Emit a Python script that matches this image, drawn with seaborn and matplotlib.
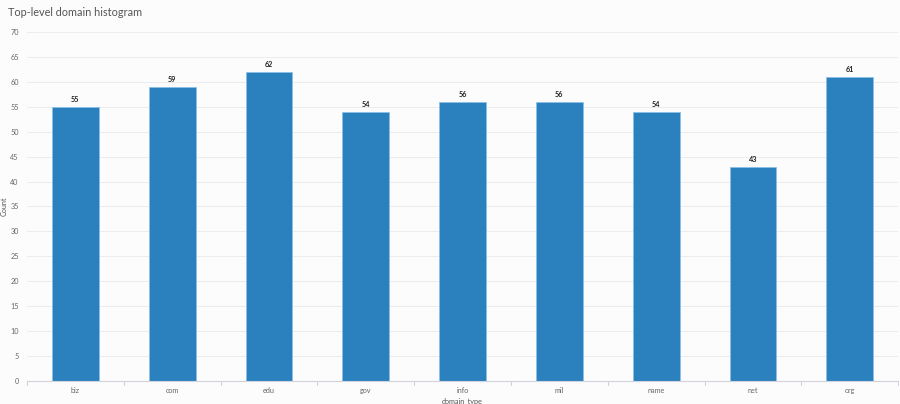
import matplotlib
matplotlib.use("Agg")
import matplotlib.pyplot as plt
import seaborn as sns
import pandas as pd
import numpy as np

domains = ["biz", "com", "edu", "gov", "info", "mil", "name", "net", "org"]
counts = [55, 59, 62, 54, 56, 56, 54, 43, 61]
y_ticks = list(range(0, 75, 5))

BG = "#fcfcfd"
BAR = "#2b80be"

sns.set_theme(style="whitegrid")
plt.rcParams["font.family"] = ["Lato", "DejaVu Sans"]

df = pd.DataFrame({"domain_type": domains, "Count": counts})

fig = plt.figure(figsize=(9, 4.04), dpi=100, facecolor=BG)
ax = fig.add_axes([0.03, 0.057, 0.968, 0.864], facecolor=BG)

sns.barplot(data=df, x="domain_type", y="Count", color=BAR, width=0.485,
            saturation=1, edgecolor="#8cc0e6", linewidth=0.6, ax=ax)

for i, v in enumerate(counts):
    ax.text(i, v + 0.7, str(v), ha="center", va="bottom", fontsize=5.2,
            color="#222222", fontweight="bold")

ax.set_ylim(0, 70)
ax.set_xlim(-0.5, len(domains) - 0.5)
ax.set_yticks(y_ticks)
ax.set_yticklabels([str(t) for t in y_ticks], fontsize=5.2, color="#666666")
ax.set_xticks(range(len(domains)))
ax.set_xticklabels(domains, fontsize=5.2, color="#666666")
ax.tick_params(axis="x", length=0, pad=4)
ax.tick_params(axis="y", length=0, pad=6)

# boundary ticks between categories
for b in np.arange(-0.5, len(domains), 1.0):
    ax.plot([b, b], [0, -0.9], color="#d0d4da", lw=0.8, clip_on=False)

ax.grid(axis="y", color="#ececef", lw=0.7)
ax.grid(axis="x", visible=False)
for s in ["top", "right", "left"]:
    ax.spines[s].set_visible(False)
ax.spines["bottom"].set_color("#d0d4da")
ax.spines["bottom"].set_linewidth(0.8)

ax.set_xlabel("domain_type", fontsize=5.2, color="#555555")
ax.set_ylabel("Count", fontsize=5.2, color="#555555")
ax.xaxis.set_label_coords(0.5, -0.049)
ax.yaxis.set_label_coords(-0.022, 0.5)

fig.text(0.009, 0.97, "Top-level domain histogram", fontsize=7.8, color="#555555",
         ha="left", va="center")

fig.savefig("out.png", dpi=100, facecolor=BG)
